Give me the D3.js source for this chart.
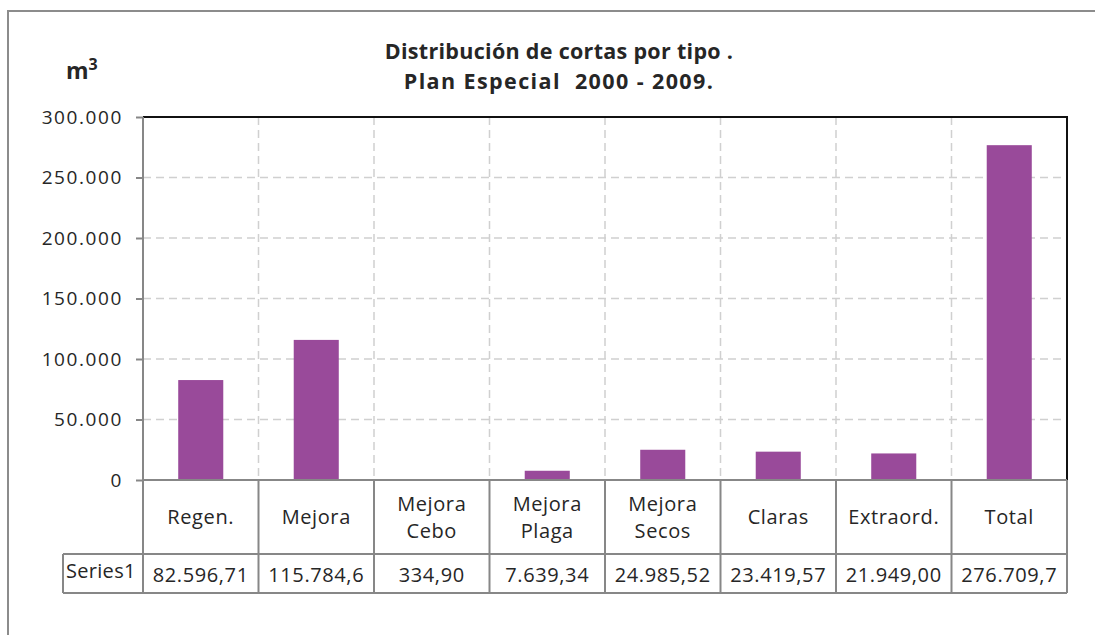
<!DOCTYPE html>
<html>
<head>
<meta charset="utf-8">
<script src="https://cdn.jsdelivr.net/npm/d3@7"></script>
<style>
  body { margin: 0; background: #fff; }
  text { font-family: "Open Sans", "Noto Sans", sans-serif; fill: #262626; }
</style>
</head>
<body>
<div id="chart"></div>
<script>
const FRAME_WIDTH = 1095;
const FRAME_HEIGHT = 635;
const MARGINS = {left: 143, right: 28, top: 117, bottom: 155};
const VIS_WIDTH = FRAME_WIDTH - MARGINS.left - MARGINS.right;
const VIS_HEIGHT = FRAME_HEIGHT - MARGINS.top - MARGINS.bottom;
const ROW1 = 74;   // category row height
const ROW2 = 39;   // value row height

// data
const CATEGORIES = ["Regen.", "Mejora", "Mejora Cebo", "Mejora Plaga", "Mejora Secos", "Claras", "Extraord.", "Total"];
const VALUES = [82596.71, 115784.6, 334.90, 7639.34, 24985.52, 23419.57, 21949.00, 276709.7];
const VALUE_LABELS = ["82.596,71", "115.784,6", "334,90", "7.639,34", "24.985,52", "23.419,57", "21.949,00", "276.709,7"];
const SERIES_NAME = "Series1";
const Y_TICKS = [0, 50000, 100000, 150000, 200000, 250000, 300000];
const TITLE = ["Distribución de cortas por tipo .", "Plan Especial  2000 - 2009."];

const GRID = "#d0d0d0";
const LINE = "#878787";
const BAR = "#994a9a";

const ES = d3.formatLocale({decimal: ",", thousands: ".", grouping: [3], currency: ["", "€"]});
const FMT = ES.format(",");

const SVG = d3.select("#chart")
  .append("svg")
    .attr("width", FRAME_WIDTH)
    .attr("height", FRAME_HEIGHT);

// chart area outline (cut off on right and bottom)
SVG.append("path")
  .attr("d", "M8," + FRAME_HEIGHT + " L8,11 L" + FRAME_WIDTH + ",11")
  .attr("fill", "none")
  .attr("stroke", "#8c8c8c")
  .attr("stroke-width", 2);

const X_SCALE = d3.scaleBand()
  .domain(CATEGORIES)
  .range([MARGINS.left, MARGINS.left + VIS_WIDTH])
  .paddingInner(0.61)
  .paddingOuter(0.305);

const X_CELL = d3.scaleBand()
  .domain(CATEGORIES)
  .range([MARGINS.left, MARGINS.left + VIS_WIDTH]);

const Y_SCALE = d3.scaleLinear()
  .domain([0, 300000])
  .range([MARGINS.top + VIS_HEIGHT, MARGINS.top]);

const X0 = MARGINS.left, X1 = MARGINS.left + VIS_WIDTH;
const Y0 = Y_SCALE(0), YT = Y_SCALE(300000);

// horizontal gridlines
SVG.append("g")
  .selectAll("line")
  .data(Y_TICKS.slice(1, -1))
  .enter().append("line")
    .attr("x1", X0).attr("x2", X1)
    .attr("y1", d => Y_SCALE(d)).attr("y2", d => Y_SCALE(d))
    .attr("stroke", GRID)
    .attr("stroke-width", 1.5)
    .attr("stroke-dasharray", "8,5");

// vertical gridlines between categories
SVG.append("g")
  .selectAll("line")
  .data(CATEGORIES.slice(1))
  .enter().append("line")
    .attr("x1", d => X_CELL(d)).attr("x2", d => X_CELL(d))
    .attr("y1", YT).attr("y2", Y0)
    .attr("stroke", GRID)
    .attr("stroke-width", 1.5)
    .attr("stroke-dasharray", "8,5");

// bars
SVG.append("g")
  .selectAll("rect")
  .data(VALUES)
  .enter().append("rect")
    .attr("x", (d, i) => X_SCALE(CATEGORIES[i]))
    .attr("width", X_SCALE.bandwidth())
    .attr("y", d => Y_SCALE(d))
    .attr("height", d => Y0 - Y_SCALE(d))
    .attr("fill", BAR);

// y axis
const Y_AXIS = SVG.append("g")
  .attr("transform", "translate(" + X0 + ",0)")
  .call(d3.axisLeft(Y_SCALE).tickValues(Y_TICKS).tickFormat(FMT).tickSize(7).tickPadding(13));
Y_AXIS.select(".domain").remove();
Y_AXIS.selectAll("line").attr("stroke", LINE).attr("stroke-width", 2);
Y_AXIS.selectAll("text")
  .attr("font-size", "19px")
  .attr("letter-spacing", "1.6px")
  .attr("font-family", "Open Sans")
  .attr("fill", "#262626");

// plot border top/right (black)
SVG.append("path")
  .attr("d", "M" + X0 + "," + YT + " L" + X1 + "," + YT + " L" + X1 + "," + Y0)
  .attr("fill", "none")
  .attr("stroke", "#111")
  .attr("stroke-width", 2);

// data table
const T1 = Y0 + ROW1, T2 = T1 + ROW2;
const TABLE = SVG.append("g")
  .attr("stroke", LINE)
  .attr("stroke-width", 2)
  .attr("fill", "none");

TABLE.append("line").attr("x1", X0).attr("x2", X1).attr("y1", Y0).attr("y2", Y0);
TABLE.append("line").attr("x1", 63).attr("x2", X1).attr("y1", T1).attr("y2", T1);
TABLE.append("line").attr("x1", 63).attr("x2", X1).attr("y1", T2).attr("y2", T2);
TABLE.append("line").attr("x1", 63).attr("x2", 63).attr("y1", T1).attr("y2", T2);
TABLE.append("line").attr("x1", X0).attr("x2", X0).attr("y1", YT).attr("y2", T2);
TABLE.append("line").attr("x1", X1).attr("x2", X1).attr("y1", Y0).attr("y2", T2);
TABLE.selectAll(".sep")
  .data(CATEGORIES.slice(1))
  .enter().append("line")
    .attr("class", "sep")
    .attr("x1", d => X_CELL(d)).attr("x2", d => X_CELL(d))
    .attr("y1", Y0).attr("y2", T2);

// category labels
const CAT = SVG.append("g")
  .selectAll("text")
  .data(CATEGORIES)
  .enter().append("text")
    .attr("text-anchor", "middle")
    .attr("font-size", "20px")
    .attr("letter-spacing", "0.6px");
CAT.each(function(d) {
  const lines = d.split(" ");
  const cx = X_CELL(d) + X_CELL.bandwidth() / 2;
  const first = lines.length == 1 ? Y0 + 44 : Y0 + 31;
  d3.select(this).selectAll("tspan")
    .data(lines)
    .enter().append("tspan")
      .attr("x", cx)
      .attr("y", (l, i) => first + i * 27)
      .text(l => l);
});

// value row
SVG.append("g")
  .selectAll("text")
  .data(VALUE_LABELS)
  .enter().append("text")
    .attr("x", (d, i) => X_CELL(CATEGORIES[i]) + X_CELL.bandwidth() / 2)
    .attr("y", T1 + 28)
    .attr("text-anchor", "middle")
    .attr("font-size", "20px")
    .attr("letter-spacing", "0.6px")
    .text(d => d);

SVG.append("text")
  .attr("x", 66)
  .attr("y", T1 + 24)
  .attr("font-size", "20px")
  .attr("letter-spacing", "0.3px")
  .text(SERIES_NAME);

// title
SVG.append("g")
  .selectAll("text")
  .data(TITLE)
  .enter().append("text")
    .attr("x", 559)
    .attr("y", (d, i) => 59 + i * 30)
    .attr("text-anchor", "middle")
    .attr("font-size", "21.5px")
    .attr("font-weight", "bold")
    .attr("letter-spacing", (d, i) => i == 0 ? "0.3px" : "1.4px")
    .style("white-space", "pre")
    .text(d => d);

// unit label
const UNIT = SVG.append("text")
  .attr("x", 66)
  .attr("y", 79)
  .attr("font-size", "23px")
  .attr("font-weight", "bold");
UNIT.append("tspan").text("m");
UNIT.append("tspan").attr("font-size", "16px").attr("dy", -9).text("3");
</script>
</body>
</html>
